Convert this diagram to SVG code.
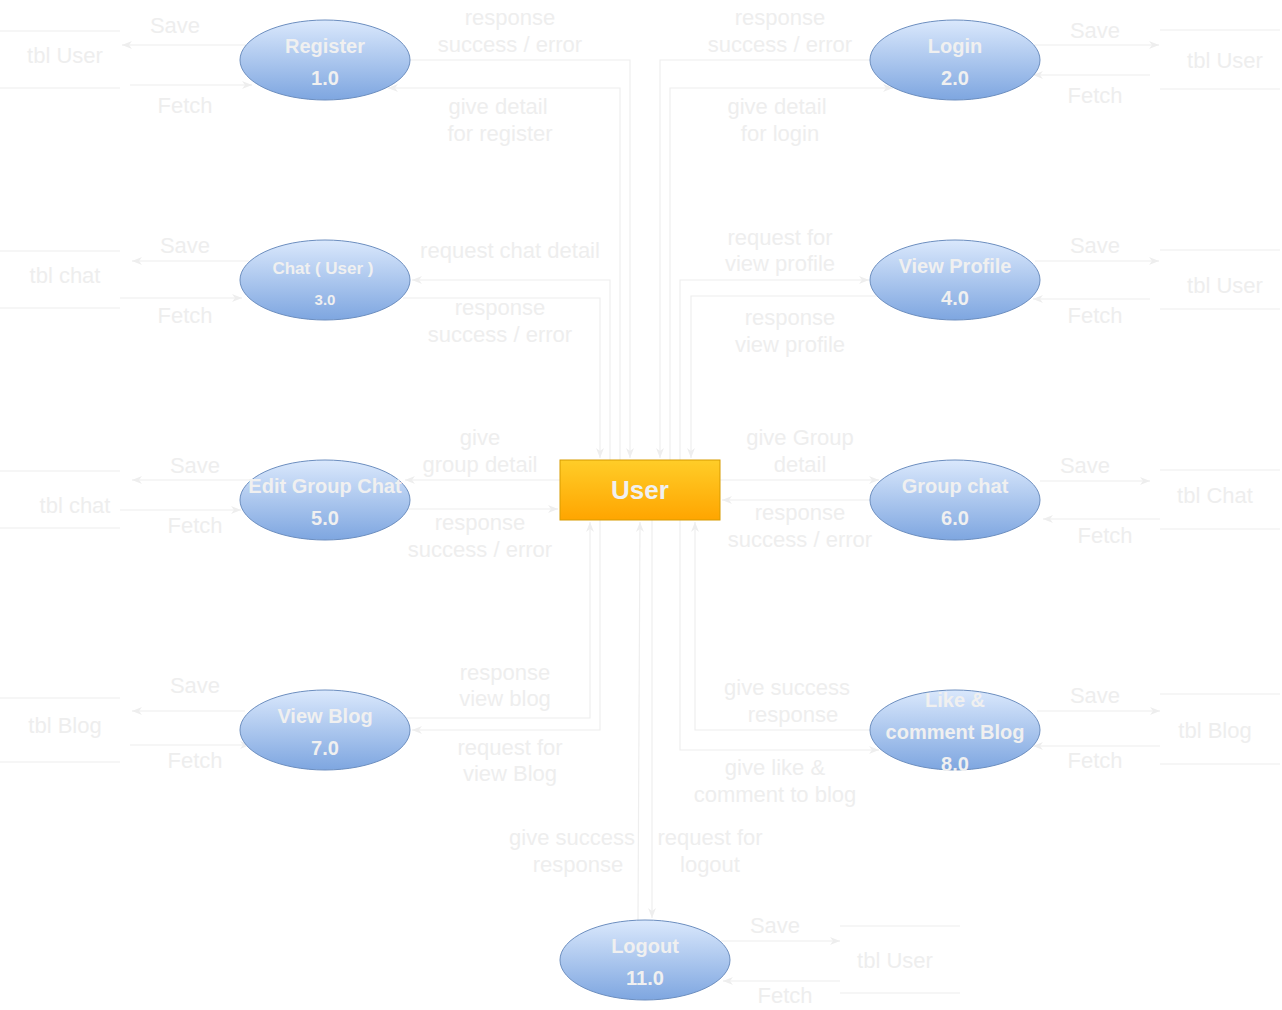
<svg xmlns="http://www.w3.org/2000/svg" width="1282" height="1010" viewBox="0 0 1282 1010">
<style>
.bg{fill:#ffffff}
.el{fill:url(#gb);stroke:#6c8ebf;stroke-width:1}
.nt{font-family:"Liberation Sans",Arial,sans-serif;font-weight:bold;font-size:20px;fill:#f0f0f0;text-anchor:middle}
.lb{font-family:"Liberation Sans",Arial,sans-serif;font-size:22px;fill:#eeeeee;text-anchor:middle}
.c{fill:none;stroke:#eeeeee;stroke-width:1.2}
.ca{fill:none;stroke:#eeeeee;stroke-width:1.2;marker-end:url(#ah)}
</style>
<defs>
<linearGradient id="gb" x1="0" y1="0" x2="0" y2="1">
<stop offset="0" stop-color="#dae8fc"/>
<stop offset="1" stop-color="#7ea6e0"/>
</linearGradient>
<linearGradient id="go" x1="0" y1="0" x2="0" y2="1">
<stop offset="0" stop-color="#ffcd28"/>
<stop offset="1" stop-color="#ffa500"/>
</linearGradient>
<marker id="ah" viewBox="0 0 10 10" refX="10" refY="5" markerWidth="10" markerHeight="10" orient="auto" markerUnits="userSpaceOnUse">
<path d="M0,1 L10,5 L0,9 L3,5 z" fill="#eeeeee"/>
</marker>
</defs>
<rect class="bg" x="0" y="0" width="1282" height="1010"/>

<g id="connectors">
<!-- Register -->
<path class="ca" d="M246,45 H122"/>
<path class="ca" d="M130,85 H252"/>
<path class="ca" d="M410,60 H630 V458"/>
<path class="ca" d="M620,460 V88 H388"/>
<!-- Login -->
<path class="ca" d="M870,60 H660 V458"/>
<path class="ca" d="M670,460 V88 H893"/>
<path class="ca" d="M1034,45 H1159"/>
<path class="ca" d="M1150,75 H1033"/>
<!-- Chat -->
<path class="ca" d="M610,460 V280 H412"/>
<path class="ca" d="M403,298 H600 V458"/>
<path class="ca" d="M249,261 H132"/>
<path class="ca" d="M120,298 H242"/>
<!-- View Profile -->
<path class="ca" d="M680,460 V280 H869"/>
<path class="ca" d="M880,296 H691 V458"/>
<path class="ca" d="M1035,261 H1159"/>
<path class="ca" d="M1150,299 H1033"/>
<!-- Edit Group Chat -->
<path class="ca" d="M560,480 H405"/>
<path class="ca" d="M408,509 H558"/>
<path class="ca" d="M250,480 H132"/>
<path class="ca" d="M120,510 H241"/>
<!-- Group chat -->
<path class="ca" d="M720,480 H879"/>
<path class="ca" d="M870,500 H722"/>
<path class="ca" d="M1040,481 H1150"/>
<path class="ca" d="M1160,519 H1043"/>
<!-- View Blog -->
<path class="ca" d="M406,718 H590 V522"/>
<path class="ca" d="M600,520 V730 H412"/>
<path class="ca" d="M245,711 H132"/>
<path class="ca" d="M130,745 H250"/>
<!-- Like & comment -->
<path class="ca" d="M680,520 V750 H879"/>
<path class="ca" d="M870,730 H695 V522"/>
<path class="ca" d="M1037,711 H1160"/>
<path class="ca" d="M1160,746 H1033"/>
<!-- Logout -->
<path class="ca" d="M652,520 V918"/>
<path class="ca" d="M638,920 L640,522"/>
<path class="ca" d="M721,941 H840"/>
<path class="ca" d="M840,981 H723"/>
</g>

<g id="stores">
<path class="c" d="M0,31 H120 M0,88 H120"/>
<path class="c" d="M1160,30 H1280 M1160,89 H1280"/>
<path class="c" d="M0,251 H120 M0,308 H120"/>
<path class="c" d="M1160,250 H1280 M1160,309 H1280"/>
<path class="c" d="M0,471 H120 M0,528 H120"/>
<path class="c" d="M1160,470 H1280 M1160,529 H1280"/>
<path class="c" d="M0,698 H120 M0,762 H120"/>
<path class="c" d="M1160,694 H1280 M1160,764 H1280"/>
<path class="c" d="M840,926 H960 M840,993 H960"/>
<text class="lb" x="65" y="63">tbl User</text>
<text class="lb" x="1225" y="68">tbl User</text>
<text class="lb" x="65" y="283">tbl chat</text>
<text class="lb" x="1225" y="293">tbl User</text>
<text class="lb" x="75" y="513">tbl chat</text>
<text class="lb" x="1215" y="503">tbl Chat</text>
<text class="lb" x="65" y="733">tbl Blog</text>
<text class="lb" x="1215" y="738">tbl Blog</text>
<text class="lb" x="895" y="968">tbl User</text>
</g>

<g id="labels">
<text class="lb" x="175" y="33">Save</text>
<text class="lb" x="185" y="113">Fetch</text>
<text class="lb" x="1095" y="38">Save</text>
<text class="lb" x="1095" y="103">Fetch</text>
<text class="lb" x="185" y="253">Save</text>
<text class="lb" x="185" y="323">Fetch</text>
<text class="lb" x="1095" y="253">Save</text>
<text class="lb" x="1095" y="323">Fetch</text>
<text class="lb" x="195" y="473">Save</text>
<text class="lb" x="195" y="533">Fetch</text>
<text class="lb" x="1085" y="473">Save</text>
<text class="lb" x="1105" y="543">Fetch</text>
<text class="lb" x="195" y="693">Save</text>
<text class="lb" x="195" y="768">Fetch</text>
<text class="lb" x="1095" y="703">Save</text>
<text class="lb" x="1095" y="768">Fetch</text>
<text class="lb" x="775" y="933">Save</text>
<text class="lb" x="785" y="1003">Fetch</text>

<text class="lb" x="510" y="25">response</text>
<text class="lb" x="510" y="52">success / error</text>
<text class="lb" x="498" y="114">give detail</text>
<text class="lb" x="500" y="141">for register</text>
<text class="lb" x="780" y="25">response</text>
<text class="lb" x="780" y="52">success / error</text>
<text class="lb" x="777" y="114">give detail</text>
<text class="lb" x="780" y="141">for login</text>
<text class="lb" x="510" y="258">request chat detail</text>
<text class="lb" x="500" y="315">response</text>
<text class="lb" x="500" y="342">success / error</text>
<text class="lb" x="780" y="245">request for</text>
<text class="lb" x="780" y="271">view profile</text>
<text class="lb" x="790" y="325">response</text>
<text class="lb" x="790" y="352">view profile</text>
<text class="lb" x="480" y="445">give</text>
<text class="lb" x="480" y="472">group detail</text>
<text class="lb" x="800" y="445">give Group</text>
<text class="lb" x="800" y="472">detail</text>
<text class="lb" x="480" y="530">response</text>
<text class="lb" x="480" y="557">success / error</text>
<text class="lb" x="800" y="520">response</text>
<text class="lb" x="800" y="547">success / error</text>
<text class="lb" x="505" y="680">response</text>
<text class="lb" x="505" y="706">view blog</text>
<text class="lb" x="510" y="755">request for</text>
<text class="lb" x="510" y="781">view Blog</text>
<text class="lb" x="787" y="695">give success</text>
<text class="lb" x="793" y="722">response</text>
<text class="lb" x="775" y="775">give like &amp;</text>
<text class="lb" x="775" y="802">comment to blog</text>
<text class="lb" x="572" y="845">give success</text>
<text class="lb" x="578" y="872">response</text>
<text class="lb" x="710" y="845">request for</text>
<text class="lb" x="710" y="872">logout</text>
</g>

<g id="user">
<rect x="560" y="460" width="160" height="60" fill="url(#go)" stroke="#d79b00" stroke-width="1"/>
<text class="nt" x="640" y="499" style="font-size:26px">User</text>
</g>

<g id="register">
<ellipse class="el" cx="325" cy="60" rx="85" ry="40"/>
<text class="nt" x="325" y="53">Register</text>
<text class="nt" x="325" y="85">1.0</text>
</g>
<g id="login">
<ellipse class="el" cx="955" cy="60" rx="85" ry="40"/>
<text class="nt" x="955" y="53">Login</text>
<text class="nt" x="955" y="85">2.0</text>
</g>
<g id="chat-user">
<ellipse class="el" cx="325" cy="280" rx="85" ry="40"/>
<text class="nt" x="323" y="274" style="font-size:17px">Chat ( User )</text>
<text class="nt" x="325" y="305" style="font-size:15px">3.0</text>
</g>
<g id="view-profile">
<ellipse class="el" cx="955" cy="280" rx="85" ry="40"/>
<text class="nt" x="955" y="273">View Profile</text>
<text class="nt" x="955" y="305">4.0</text>
</g>
<g id="edit-group-chat">
<ellipse class="el" cx="325" cy="500" rx="85" ry="40"/>
<text class="nt" x="325" y="493">Edit Group Chat</text>
<text class="nt" x="325" y="525">5.0</text>
</g>
<g id="group-chat">
<ellipse class="el" cx="955" cy="500" rx="85" ry="40"/>
<text class="nt" x="955" y="493">Group chat</text>
<text class="nt" x="955" y="525">6.0</text>
</g>
<g id="view-blog">
<ellipse class="el" cx="325" cy="730" rx="85" ry="40"/>
<text class="nt" x="325" y="723">View Blog</text>
<text class="nt" x="325" y="755">7.0</text>
</g>
<g id="like-comment-blog">
<ellipse class="el" cx="955" cy="730" rx="85" ry="40"/>
<text class="nt" x="955" y="707">Like &amp;</text>
<text class="nt" x="955" y="739">comment Blog</text>
<text class="nt" x="955" y="771">8.0</text>
</g>
<g id="logout">
<ellipse class="el" cx="645" cy="960" rx="85" ry="40"/>
<text class="nt" x="645" y="953">Logout</text>
<text class="nt" x="645" y="985">11.0</text>
</g>
</svg>
